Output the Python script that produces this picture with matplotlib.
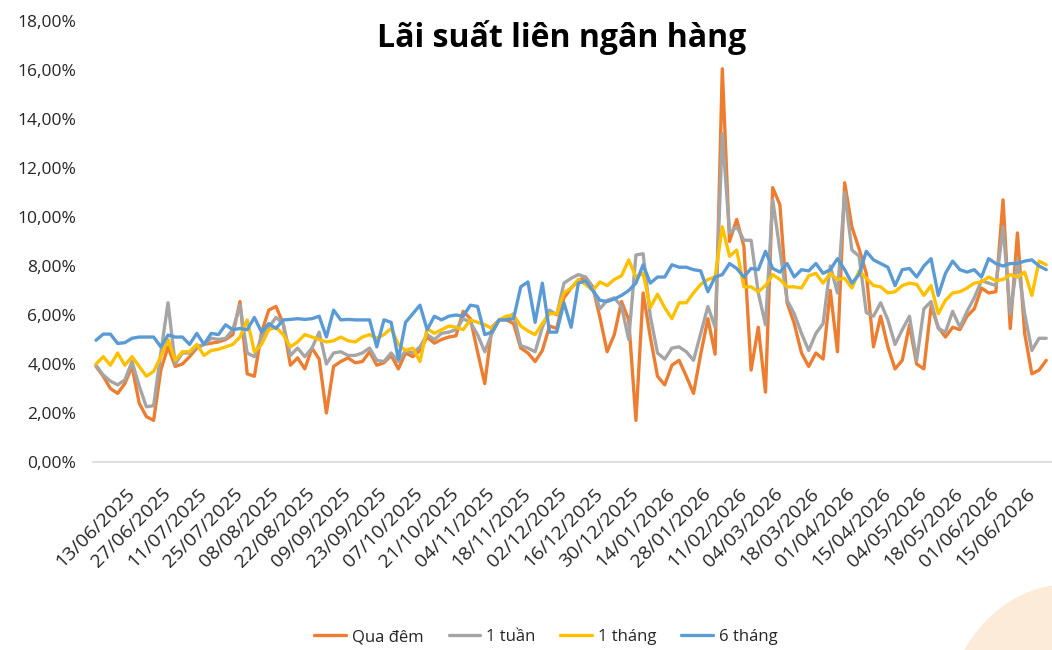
import numpy as np
import matplotlib
matplotlib.use("Agg")
import matplotlib.pyplot as plt
from matplotlib.patches import Ellipse
from matplotlib.ticker import FuncFormatter

plt.rcParams["font.family"] = ["Open Sans", "DejaVu Sans"]

# interbank rates (%), one point every two trading days
qua_dem = [
    3.9, 3.5, 3.0, 2.8, 3.2, 3.9, 2.4, 1.85, 1.7, 3.75,
    4.7, 3.9, 4.0, 4.3, 4.65, 4.8, 4.85, 4.9, 5.0, 5.2,
    6.55, 3.6, 3.5, 5.3, 6.2, 6.35, 5.65, 3.95, 4.25, 3.8,
    4.65, 4.2, 2.0, 3.9, 4.1, 4.25, 4.05, 4.1, 4.5, 3.95,
    4.05, 4.35, 3.8, 4.45, 4.3, 4.55, 5.1, 4.85, 5.0, 5.1,
    5.15, 6.15, 5.85, 4.5, 3.2, 5.5, 5.8, 5.8, 5.65, 4.65,
    4.45, 4.1, 4.55, 5.55, 5.45, 6.7, 7.1, 7.4, 7.55, 7.15,
    5.9, 4.5, 5.2, 6.55, 5.8, 1.7, 6.9, 5.1, 3.5, 3.15,
    3.95, 4.15, 3.5, 2.8, 4.4, 5.85, 4.4, 16.05, 9.0, 9.9,
    8.8, 3.75, 5.5, 2.85, 11.2, 10.5, 6.5, 5.65, 4.45, 3.9,
    4.45, 4.2, 7.0, 4.5, 11.4, 9.6, 8.7, 7.7, 4.7, 5.95,
    4.7, 3.8, 4.15, 5.6, 4.0, 3.8, 6.35, 5.5, 5.1, 5.5,
    5.4, 5.95, 6.25, 7.1, 6.9, 6.95, 10.7, 5.45, 9.35, 5.25,
    3.6, 3.75, 4.15,
]
mot_tuan = [
    3.95, 3.55, 3.3, 3.15, 3.35, 4.1, 3.1, 2.25, 2.3, 4.45,
    6.5, 4.0, 4.45, 4.45, 4.7, 4.8, 5.05, 5.0, 5.05, 5.4,
    6.4, 4.45, 4.3, 5.1, 5.5, 5.9, 5.65, 4.35, 4.65, 4.3,
    4.65, 5.3, 4.0, 4.45, 4.5, 4.35, 4.35, 4.45, 4.65, 4.15,
    4.1, 4.45, 4.1, 4.55, 4.45, 4.7, 5.2, 5.0, 5.25, 5.3,
    5.4, 5.85, 5.7, 5.2, 4.5, 5.25, 5.8, 5.85, 6.05, 4.75,
    4.65, 4.5, 5.5, 6.2, 6.0, 7.3, 7.5, 7.65, 7.55, 7.1,
    6.25, 6.6, 6.7, 6.35, 5.0, 8.45, 8.5, 5.95, 4.45, 4.2,
    4.65, 4.7, 4.5, 4.15, 5.25, 6.35, 5.5, 13.4, 9.35, 9.6,
    9.05, 9.05, 6.9, 5.6, 10.7, 8.65, 6.6, 6.05, 5.25, 4.55,
    5.25, 5.65, 8.0, 6.9, 11.0, 8.65, 8.4, 6.1, 5.95, 6.5,
    5.8, 4.8, 5.4, 5.95, 4.15, 6.25, 6.55, 5.45, 5.3, 6.15,
    5.5, 6.15, 6.7, 7.4, 7.3, 7.2, 9.6, 6.05, 8.25, 6.05,
    4.55, 5.05, 5.05,
]
mot_thang = [
    4.0, 4.3, 3.95, 4.45, 3.95, 4.3, 3.9, 3.5, 3.7, 4.3,
    5.0, 4.15, 4.5, 4.5, 4.8, 4.35, 4.55, 4.6, 4.7, 4.8,
    5.1, 5.8, 4.5, 4.8, 5.4, 5.5, 5.2, 4.7, 4.9, 5.2,
    5.1, 5.0, 4.9, 4.95, 5.1, 4.95, 4.9, 5.1, 5.2, 5.05,
    5.2, 5.45, 4.8, 4.55, 4.65, 4.1, 5.45, 5.25, 5.4, 5.55,
    5.5, 5.4, 5.8, 5.7, 5.6, 5.45, 5.8, 5.95, 6.0, 5.55,
    5.35, 5.2, 5.65, 6.05, 6.05, 6.9, 7.1, 7.45, 7.25, 7.0,
    7.35, 7.2, 7.45, 7.6, 8.25, 7.55, 7.7, 6.3, 6.85, 6.3,
    5.85, 6.5, 6.5, 6.9, 7.25, 7.45, 7.55, 9.6, 8.4, 8.65,
    7.15, 7.15, 6.95, 7.2, 7.65, 7.45, 7.15, 7.15, 7.1, 7.6,
    7.7, 7.3, 7.7, 7.45, 7.5, 7.1, 7.8, 7.5, 7.2, 7.15,
    6.9, 6.95, 7.2, 7.3, 7.25, 6.8, 7.2, 6.05, 6.6, 6.9,
    6.95, 7.1, 7.3, 7.35, 7.55, 7.4, 7.45, 7.65, 7.55, 7.75,
    6.8, 8.2, 8.05,
]
sau_thang = [
    4.97, 5.22, 5.22, 4.84, 4.87, 5.05, 5.1, 5.1, 5.1, 4.7,
    5.18, 5.1, 5.1, 4.8, 5.25, 4.8, 5.25, 5.2, 5.6, 5.4,
    5.45, 5.4, 5.9, 5.3, 5.65, 5.45, 5.8, 5.82, 5.85, 5.82,
    5.85, 5.95, 5.1, 6.2, 5.8, 5.82, 5.8, 5.8, 5.8, 4.7,
    5.8, 5.7, 4.2, 5.7, 6.05, 6.4, 5.4, 5.95, 5.8, 5.95,
    6.0, 5.95, 6.4, 6.35, 5.2, 5.3, 5.8, 5.8, 5.85, 7.15,
    7.35, 5.7, 7.3, 5.3, 5.3, 6.5, 5.5, 7.3, 7.4, 7.0,
    6.6, 6.55, 6.65, 6.8, 7.0, 7.3, 8.05, 7.3, 7.55, 7.55,
    8.05, 7.95, 7.95, 7.85, 7.8, 6.95, 7.55, 7.65, 8.1, 7.9,
    7.55, 7.9, 7.85, 8.6, 7.9, 7.75, 8.1, 7.55, 7.85, 7.8,
    8.1, 7.7, 7.85, 8.3, 7.85, 7.3, 7.65, 8.6, 8.25, 8.1,
    7.95, 7.2, 7.85, 7.9, 7.55, 8.0, 8.3, 6.8, 7.7, 8.2,
    7.85, 7.75, 7.85, 7.55, 8.3, 8.1, 8.0, 8.1, 8.1, 8.2,
    8.25, 8.0, 7.85,
]

date_labels = [
    "13/06/2025", "27/06/2025", "11/07/2025", "25/07/2025", "08/08/2025",
    "22/08/2025", "09/09/2025", "23/09/2025", "07/10/2025", "21/10/2025",
    "04/11/2025", "18/11/2025", "02/12/2025", "16/12/2025", "30/12/2025",
    "14/01/2026", "28/01/2026", "11/02/2026", "04/03/2026", "18/03/2026",
    "01/04/2026", "15/04/2026", "04/05/2026", "18/05/2026", "01/06/2026",
    "15/06/2026",
]
label_pos = [5 * (k + 1) for k in range(len(date_labels))]

series = [
    ("Qua đêm", qua_dem, "#ED7D31"),
    ("1 tuần", mot_tuan, "#A5A5A5"),
    ("1 tháng", mot_thang, "#FFC000"),
    ("6 tháng", sau_thang, "#5B9BD5"),
]

W, H = 1052, 650
fig = plt.figure(figsize=(W / 100, H / 100), dpi=100)
fig.patch.set_facecolor("white")

# soft decoration in the bottom-right corner
fig.add_artist(Ellipse((1068 / W, -85 / H), 250 / W, 300 / H,
                       transform=fig.transFigure, color="#FCEBD8", zorder=0))

ax = fig.add_axes([93 / W, (H - 462) / H, 959 / W, 441 / H])
ax.set_facecolor("none")

x = np.arange(len(qua_dem))
for name, vals, color in series:
    ax.plot(x, vals, color=color, lw=2.4, label=name,
            solid_joinstyle="round", solid_capstyle="round")

ax.set_xlim(-0.42, 132.8)
ax.set_ylim(0, 18)
ax.set_yticks(np.arange(0, 19, 2))
ax.yaxis.set_major_formatter(
    FuncFormatter(lambda v, _: f"{v:.2f}".replace(".", ",") + "%"))

ax.set_xticks(label_pos)
ax.set_xticklabels(date_labels, rotation=45, ha="right", va="center",
                   rotation_mode="anchor")

for side in ["top", "right", "left"]:
    ax.spines[side].set_visible(False)
ax.spines["bottom"].set_color("#D9D9D9")
ax.spines["bottom"].set_linewidth(1.2)
ax.tick_params(axis="both", length=0, colors="#262626")
ax.tick_params(axis="y", pad=12, labelsize=12.5)
ax.tick_params(axis="x", pad=21, labelsize=14)

fig.text(562 / W, 1 - 38 / H, "Lãi suất liên ngân hàng", ha="center",
         va="center", fontsize=23, fontweight="bold", color="black")

handles, labels = ax.get_legend_handles_labels()
fig.legend(handles, labels, loc="center", bbox_to_anchor=(546 / W, 1 - 637 / H),
           ncol=4, frameon=False, fontsize=12, handlelength=1.9,
           columnspacing=1.5, handletextpad=0.35, labelcolor="#262626")

fig.savefig("out.png", dpi=100)
